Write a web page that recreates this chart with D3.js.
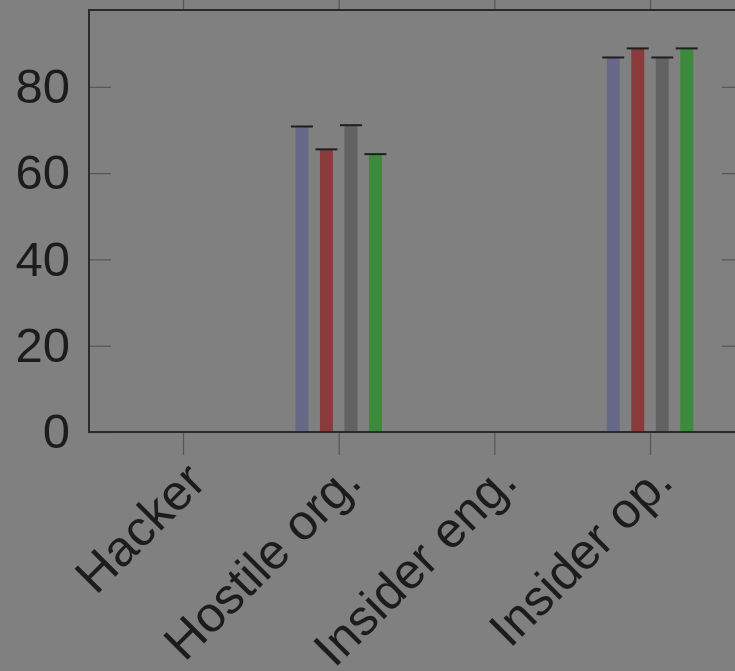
<!DOCTYPE html>
<html lang="en">
<head>
    <meta charset="UTF-8">
    <script type="text/javascript" src="https://cdn.jsdelivr.net/npm/d3@7/dist/d3.min.js"></script>
    <title>bars</title>
    <style>
        body { margin: 0; background: #808080; }
        svg { display: block; }
    </style>
</head>
<body>

</body>
<script>

    // data
    let categories = ["Hacker", "Hostile org.", "Insider eng.", "Insider op."];
    let seriesNames = ["s1", "s2", "s3", "s4"];
    let s1 = [0, 70.8, 0, 86.8];
    let s2 = [0, 65.5, 0, 88.9];
    let s3 = [0, 71.1, 0, 86.8];
    let s4 = [0, 64.4, 0, 88.9];
    let yTicks = [0, 20, 40, 60, 80];
    let colors = ["#686888", "#8a3b3b", "#626262", "#3c8a3c"];

    let width = 735, height = 671;
    let mLeft = 89, mTop = 10, mBottom = 432, mRight = 744;

    let svg = d3.select("body")
        .append("svg")
        .attr("width", width)
        .attr("height", height)
        .style("font-family", "'Liberation Sans', Arial, sans-serif");

    svg.append("rect")
        .attr("width", width)
        .attr("height", height)
        .attr("fill", "#808080");

    let x = d3.scalePoint().domain(categories).range([183, 650]);
    let inner = d3.scaleBand().domain(seriesNames).range([-49, 49]).paddingInner(0.47).paddingOuter(0.235);
    let y = d3.scaleLinear().domain([0, 97.8]).range([mBottom, mTop]);

    let series = [s1, s2, s3, s4];
    let rows = [];
    series.forEach(function (vals, si) {
        vals.forEach(function (v, ci) {
            rows.push({cat: categories[ci], s: seriesNames[si], v: v, c: colors[si]});
        })
    });

    // bars
    svg.append("g").selectAll("rect")
        .data(rows)
        .join("rect")
        .attr("x", d => x(d.cat) + inner(d.s))
        .attr("y", d => y(d.v))
        .attr("width", inner.bandwidth())
        .attr("height", d => y(0) - y(d.v))
        .attr("fill", d => d.c);

    // error bar caps
    svg.append("g").selectAll("line")
        .data(rows)
        .join("line")
        .attr("x1", d => x(d.cat) + inner(d.s) + inner.bandwidth() / 2 - 11)
        .attr("x2", d => x(d.cat) + inner(d.s) + inner.bandwidth() / 2 + 11)
        .attr("y1", d => y(d.v))
        .attr("y2", d => y(d.v))
        .attr("stroke", "#1e1e1e")
        .attr("stroke-width", 2);

    // axes
    let yAxis = svg.append("g")
        .attr("transform", "translate(" + mLeft + ",0)")
        .call(d3.axisLeft(y).tickValues(yTicks).tickSize(-22).tickPadding(19));
    let yAxisR = svg.append("g")
        .attr("transform", "translate(" + mRight + ",0)")
        .call(d3.axisRight(y).tickValues(yTicks).tickSize(-22).tickFormat(""));
    let xAxis = svg.append("g")
        .attr("transform", "translate(0," + mBottom + ")")
        .call(d3.axisBottom(x).tickSize(23).tickFormat(""));
    let xAxisT = svg.append("g")
        .attr("transform", "translate(0," + mTop + ")")
        .call(d3.axisTop(x).tickSize(12).tickFormat(""));

    [yAxis, yAxisR, xAxis, xAxisT].forEach(function (g) {
        g.select(".domain").remove();
        g.selectAll(".tick line").attr("stroke", "#555").attr("stroke-width", 1.2);
    });

    yAxis.selectAll(".tick text")
        .attr("fill", "#1c1c1c")
        .style("font-size", "49px");

    // frame
    svg.append("path")
        .attr("d", "M" + mRight + "," + mTop + "H" + mLeft + "V" + mBottom + "H" + mRight)
        .attr("fill", "none")
        .attr("stroke", "#2a2a2a")
        .attr("stroke-width", 2);

    // rotated category labels
    svg.append("g").selectAll("text")
        .data(categories)
        .join("text")
        .attr("transform", d => "translate(" + (x(d) + 25) + ",484) rotate(-45)")
        .attr("text-anchor", "end")
        .attr("fill", "#1c1c1c")
        .style("font-size", "50px")
        .text(d => d);

</script>
</html>
